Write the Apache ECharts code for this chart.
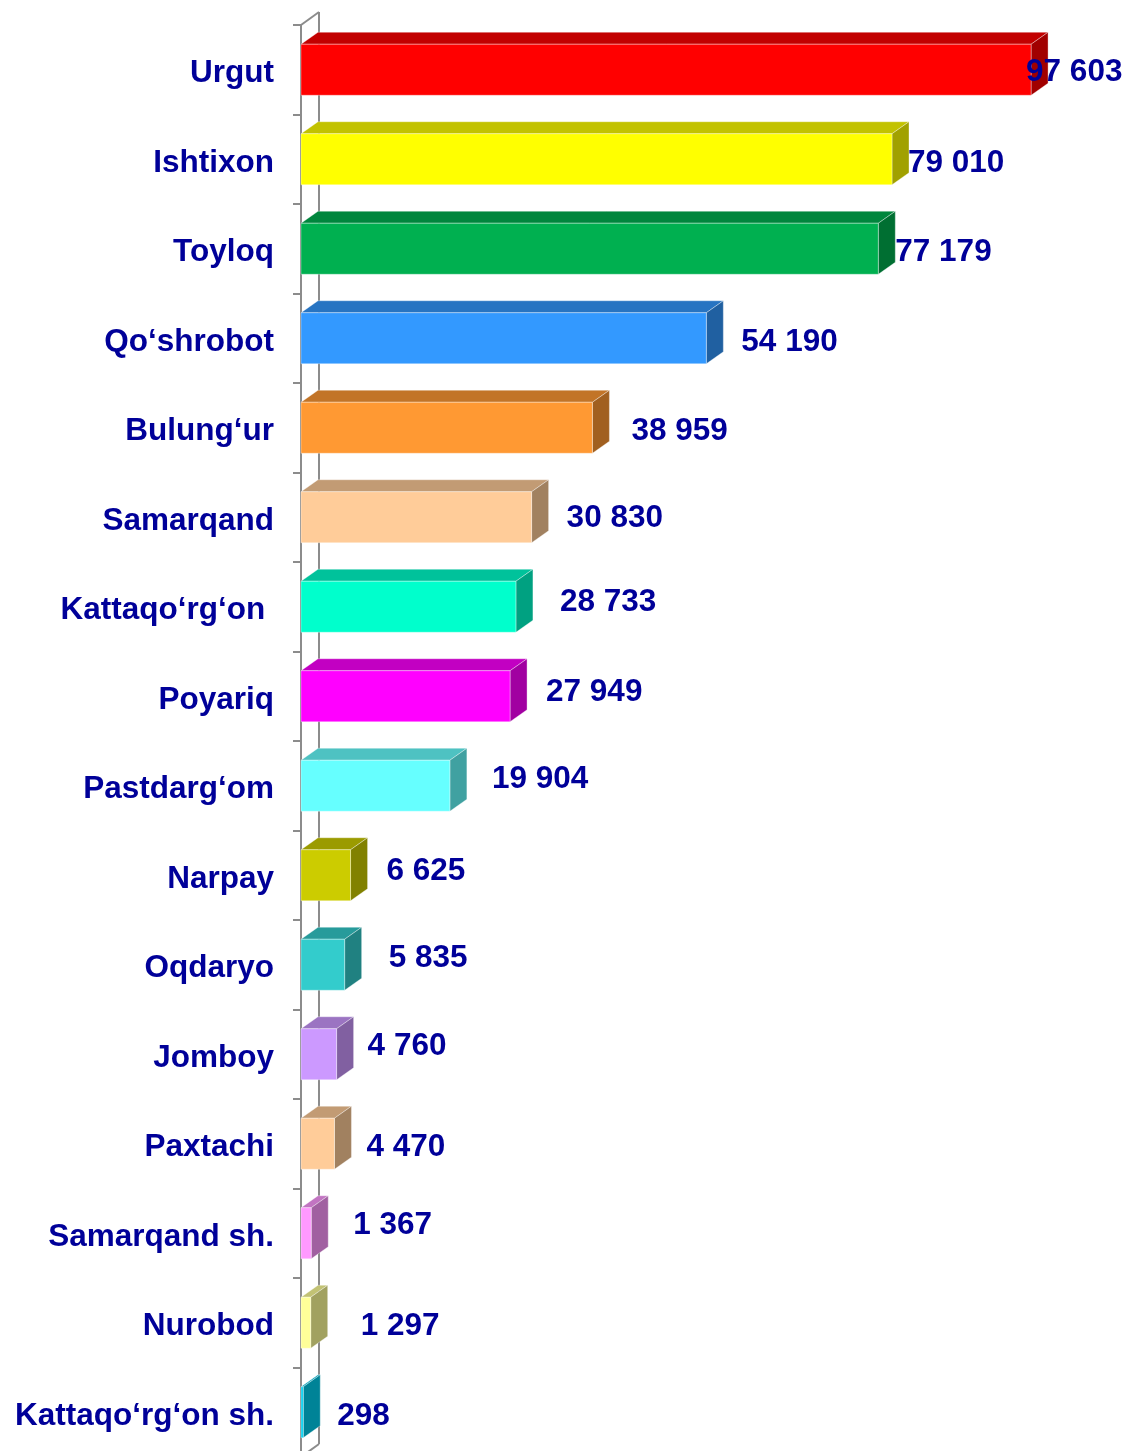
<!DOCTYPE html>
<html>
<head>
<meta charset="utf-8">
<script src="https://cdn.jsdelivr.net/npm/echarts@6/dist/echarts.min.js"></script>
<style>
  html, body { margin: 0; padding: 0; background: #fff; }
  #chart { width: 1127px; height: 1451px; }
</style>
</head>
<body>
<div id="chart"></div>
<script>
// tumanlar (yuqoridan pastga)
const districts = [
  'Urgut', 'Ishtixon', 'Toyloq', 'Qo‘shrobot', 'Bulung‘ur', 'Samarqand',
  'Kattaqo‘rg‘on ', 'Poyariq', 'Pastdarg‘om', 'Narpay', 'Oqdaryo', 'Jomboy',
  'Paxtachi', 'Samarqand sh.', 'Nurobod', 'Kattaqo‘rg‘on sh.'
];
const values = [
  97603, 79010, 77179, 54190, 38959, 30830,
  28733, 27949, 19904, 6625, 5835, 4760,
  4470, 1367, 1297, 298
];

// har bir ustunning old yuzi rangi
const barColors = [
  '#FF0000', '#FFFF00', '#00B050', '#3399FF', '#FF9933', '#FFCC99',
  '#00FFCC', '#FF00FF', '#66FFFF', '#CCCC00', '#33CCCC', '#CC99FF',
  '#FFCC99', '#FF99FF', '#FFFF99', '#00D0F0'
];
// qiymat yozuvlarining siljishi [dx, dy] (Excel'da qo'lda surilgan)
const labelShift = [
  [-22, 0], [-1, 1], [0, 1], [18, 1], [22, 1], [18, -2],
  [27, -7], [19, -7], [25, -9], [19, -7], [27, -9], [14, -11],
  [15, 1], [25, -11], [33, 1], [17, 1]
];

const DEPTH_X = 17;   // 3D chuqurlik
const DEPTH_Y = 12;
const TEXT_COLOR = '#000099';
const FONT = "'Liberation Sans', Arial, sans-serif";
const FONT_SIZE = 31.5;
const TEXT_DROP = 3;  // yozuvlarni biroz pastga
const AXIS_GREY = '#8c8c8c';

const shade = (hex, k) => {
  const n = parseInt(hex.slice(1), 16);
  const r = Math.round(((n >> 16) & 255) * k);
  const g = Math.round(((n >> 8) & 255) * k);
  const b = Math.round((n & 255) * k);
  return 'rgb(' + r + ',' + g + ',' + b + ')';
};

const fmt = v => String(v).replace(/\B(?=(\d{3})+(?!\d))/g, ' ');

// 3D ustun chizish
const renderBar = (params, api) => {
  const i = params.dataIndex;
  const val = api.value(0);
  const cat = api.value(1);
  const p0 = api.coord([0, cat]);
  const p1 = api.coord([val, cat]);
  const h = api.size([0, 1])[1] * 0.57;
  const x0 = p0[0];
  const x1 = p1[0];
  const yT = p0[1] - h / 2;
  const yB = p0[1] + h / 2;
  const c = barColors[i];
  const edge = 'rgba(255,255,255,0.35)';
  return {
    type: 'group',
    children: [
      {
        type: 'polygon',
        shape: { points: [[x0, yT], [x0 + DEPTH_X, yT - DEPTH_Y], [x1 + DEPTH_X, yT - DEPTH_Y], [x1, yT]] },
        style: { fill: shade(c, 0.76), stroke: edge, lineWidth: 1 }
      },
      {
        type: 'polygon',
        shape: { points: [[x1, yT], [x1 + DEPTH_X, yT - DEPTH_Y], [x1 + DEPTH_X, yB - DEPTH_Y], [x1, yB]] },
        style: { fill: shade(c, 0.63), stroke: edge, lineWidth: 1 }
      },
      {
        type: 'rect',
        shape: { x: x0, y: yT, width: x1 - x0, height: h },
        style: { fill: c, stroke: edge, lineWidth: 1 }
      },
      {
        type: 'text',
        z2: 10,
        x: x1 + DEPTH_X + labelShift[i][0],
        y: p1[1] + labelShift[i][1] + TEXT_DROP,
        style: {
          text: fmt(val),
          fill: TEXT_COLOR,
          font: 'bold ' + FONT_SIZE + 'px ' + FONT,
          align: 'left',
          verticalAlign: 'middle'
        }
      }
    ]
  };
};

// orqa devor chiziqlari
const renderWall = (params) => {
  const cs = params.coordSys;
  const line = (a, b) => ({
    type: 'line',
    shape: { x1: a[0], y1: a[1], x2: b[0], y2: b[1] },
    style: { stroke: AXIS_GREY, lineWidth: 2 }
  });
  const bx = cs.x + DEPTH_X + 1;
  return {
    type: 'group',
    children: [
      line([bx, cs.y - DEPTH_Y - 1], [bx, cs.y + cs.height - DEPTH_Y - 1]),
      line([cs.x, cs.y], [bx, cs.y - DEPTH_Y - 1]),
      line([cs.x, cs.y + cs.height], [bx, cs.y + cs.height - DEPTH_Y - 1])
    ]
  };
};

const myChart = echarts.init(document.getElementById('chart'));

const option = {
  animation: false,
  backgroundColor: '#fff',
  grid: {
    left: 301,
    top: 25,
    width: 748,
    height: 1432,
    containLabel: false,
    outerBoundsMode: 'none'
  },
  xAxis: {
    type: 'value',
    min: 0,
    max: 100000,
    show: false
  },
  yAxis: {
    type: 'category',
    inverse: true,
    data: districts,
    axisLine: { show: true, lineStyle: { color: AXIS_GREY, width: 2 } },
    axisTick: { show: true, length: 8, lineStyle: { color: AXIS_GREY, width: 2 } },
    axisLabel: {
      margin: 27,
      formatter: v => '{n|' + v + '}',
      rich: {
        n: {
          color: TEXT_COLOR,
          fontWeight: 'bold',
          fontSize: FONT_SIZE,
          fontFamily: FONT,
          padding: [TEXT_DROP * 2 + 2, 0, 0, 0]
        }
      }
    },
    splitLine: { show: false }
  },
  series: [
    {
      type: 'custom',
      z: 1,
      silent: true,
      renderItem: renderWall,
      data: [[0, 0]],
      encode: { x: 0, y: 1 }
    },
    {
      type: 'custom',
      z: 2,
      renderItem: renderBar,
      data: values.map((v, i) => [v, i]),
      encode: { x: 0, y: 1 }
    }
  ]
};

myChart.setOption(option);

window.addEventListener('resize', () => {
  myChart.resize();
});
</script>
</body>
</html>
